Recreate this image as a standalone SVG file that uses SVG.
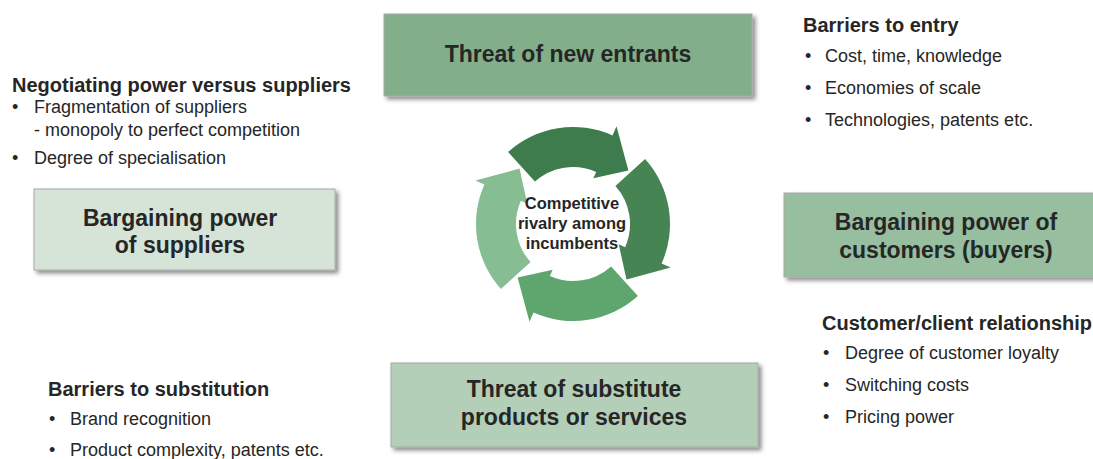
<svg xmlns="http://www.w3.org/2000/svg" width="1093" height="459" viewBox="0 0 1093 459">
<defs>
<filter id="sh" x="-10%" y="-20%" width="130%" height="150%">
<feDropShadow dx="3" dy="3" stdDeviation="2" flood-color="#000" flood-opacity="0.45"/>
</filter>
<path id="arc" d="M-64.9,-72.1 A97,97 0 0 1 39.5,-88.6 L43.5,-97.7 L55.4,-53.5 L20.3,-45.7 L23.2,-52.1 A57,57 0 0 0 -38.1,-42.4 Z"/>
</defs>
<style>
.box{stroke:#A8A8A8;stroke-width:1;filter:url(#sh)}
.bt{font-family:"Liberation Sans",Arial,sans-serif;font-weight:bold;font-size:23px;fill:#262626;text-anchor:middle}
.h{font-family:"Liberation Sans",Arial,sans-serif;font-weight:bold;font-size:20px;fill:#262626}
.t{font-family:"Liberation Sans",Arial,sans-serif;font-size:18px;fill:#262626}
.c{font-family:"Liberation Sans",Arial,sans-serif;font-weight:bold;font-size:16.5px;fill:#262626;text-anchor:middle}
</style>
<rect width="1093" height="459" fill="#fff"/>

<g id="rivalry">
<g transform="translate(573,224)">
<use href="#arc" fill="#3E7B4D"/>
<use href="#arc" fill="#468453" transform="rotate(90)"/>
<use href="#arc" fill="#5EA66E" transform="rotate(180)"/>
<use href="#arc" fill="#86BD93" transform="rotate(270)"/>
</g>
<text class="c" x="572" y="209">Competitive</text>
<text class="c" x="572" y="229">rivalry  among</text>
<text class="c" x="572" y="249">incumbents</text>
</g>

<g id="new-entrants">
<rect class="box" x="384" y="14" width="368" height="82" fill="#82AE8A"/>
<text class="bt" x="568" y="62">Threat of new entrants</text>
</g>

<g id="suppliers">
<rect class="box" x="34" y="189" width="301" height="81" fill="#D5E4D7"/>
<text class="bt" x="180" y="226">Bargaining power</text>
<text class="bt" x="180" y="253">of suppliers</text>
</g>

<g id="customers">
<rect class="box" x="784" y="193" width="324" height="84" fill="#97BE9F"/>
<text class="bt" x="946" y="230">Bargaining power of</text>
<text class="bt" x="946" y="258">customers (buyers)</text>
</g>

<g id="substitutes">
<rect class="box" x="391" y="363" width="367" height="84" fill="#B3CFB7"/>
<text class="bt" x="574" y="397">Threat of substitute</text>
<text class="bt" x="574" y="425">products or services</text>
</g>

<g id="supplier-notes">
<text class="h" x="12" y="92">Negotiating power versus suppliers</text>
<text class="t" x="12" y="113">•</text>
<text class="t" x="34" y="113">Fragmentation of suppliers</text>
<text class="t" x="34" y="136">- monopoly to perfect competition</text>
<text class="t" x="12" y="164">•</text>
<text class="t" x="34" y="164">Degree of specialisation</text>
</g>

<g id="entry-notes">
<text class="h" x="803" y="32">Barriers to entry</text>
<text class="t" x="805" y="62">•</text>
<text class="t" x="825" y="62">Cost, time, knowledge</text>
<text class="t" x="805" y="94">•</text>
<text class="t" x="825" y="94">Economies of scale</text>
<text class="t" x="805" y="126">•</text>
<text class="t" x="825" y="126">Technologies, patents etc.</text>
</g>

<g id="customer-notes">
<text class="h" x="822" y="330">Customer/client relationship</text>
<text class="t" x="823" y="359">•</text>
<text class="t" x="845" y="359">Degree of customer loyalty</text>
<text class="t" x="823" y="391">•</text>
<text class="t" x="845" y="391">Switching  costs</text>
<text class="t" x="823" y="423">•</text>
<text class="t" x="845" y="423">Pricing power</text>
</g>

<g id="substitution-notes">
<text class="h" x="48" y="396">Barriers to substitution</text>
<text class="t" x="49" y="425">•</text>
<text class="t" x="70" y="425">Brand recognition</text>
<text class="t" x="49" y="456">•</text>
<text class="t" x="70" y="456">Product complexity, patents etc.</text>
</g>
</svg>
